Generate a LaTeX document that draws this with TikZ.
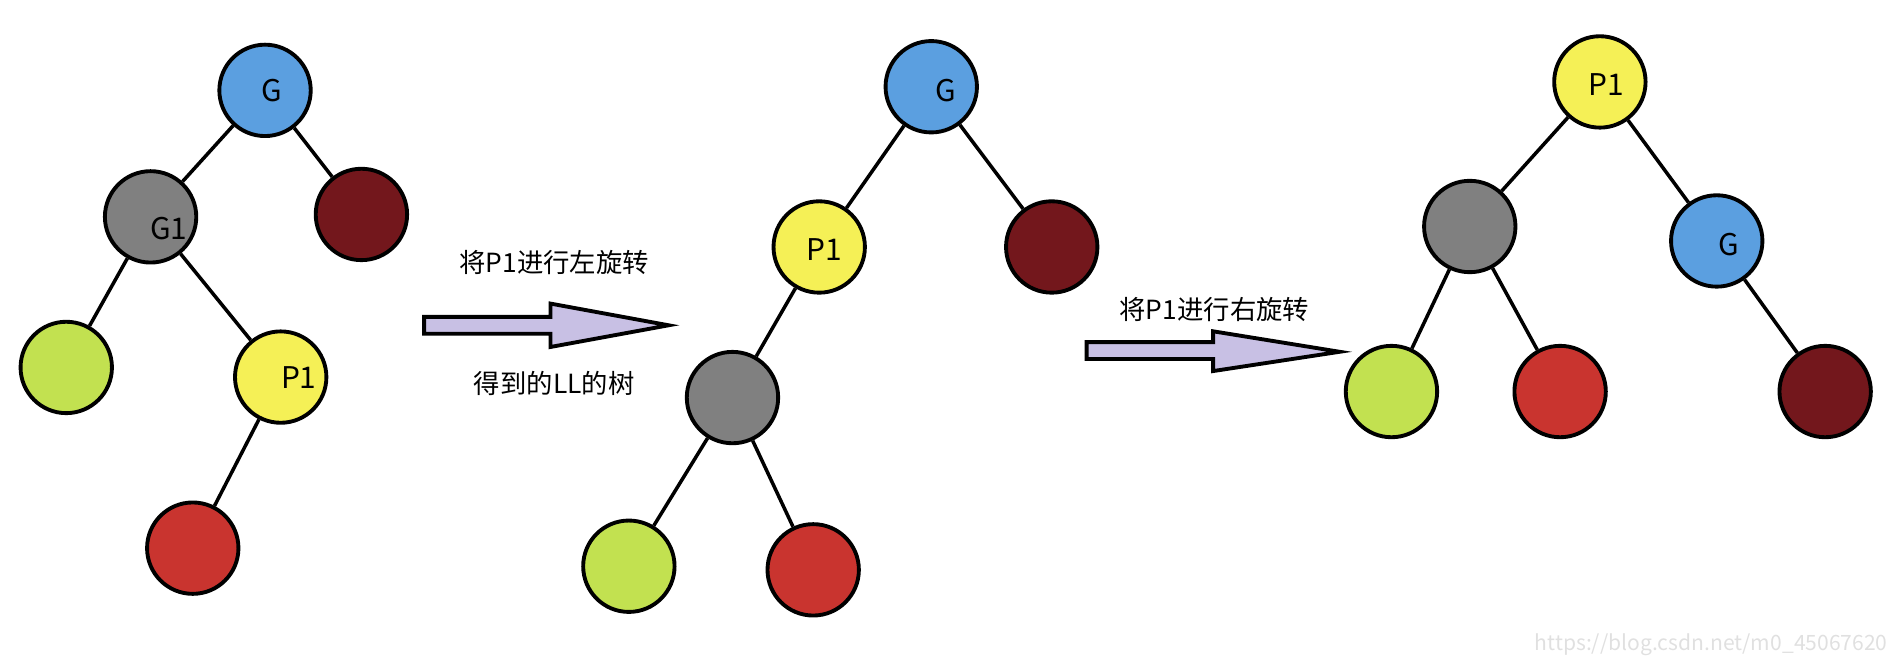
\documentclass[tikz,border=0pt]{standalone}
\usepackage{fontspec}
\setmainfont{Noto Sans CJK SC}
\definecolor{cblue}{HTML}{5B9FE0}
\definecolor{cgray}{HTML}{808080}
\definecolor{cdred}{HTML}{73171C}
\definecolor{cgreen}{HTML}{C2E150}
\definecolor{cyel}{HTML}{F5F056}
\definecolor{cred}{HTML}{C9342F}
\definecolor{clav}{HTML}{C8C0E4}
\begin{document}
\begin{tikzpicture}[x=0.0241cm,y=-0.0241cm,
  nd/.style={circle,draw=black,line width=2.2pt,minimum size=52pt,inner sep=0pt},
  lbl/.style={font=\fontsize{17}{20}\selectfont},
  edge/.style={line width=2pt},
  fat/.style={draw=black,line width=2.2pt,fill=clav},
  captxt/.style={font=\fontsize{15}{18}\selectfont}]
\useasboundingbox (0,0) rectangle (1568,547);
% tree 1
\node[nd,fill=cblue] (aG) at (220,75) {};
\node[nd,fill=cgray] (aG1) at (125,180) {};
\node[nd,fill=cdred] (aR) at (300,178) {};
\node[nd,fill=cgreen] (aL) at (55,305) {};
\node[nd,fill=cyel] (aP) at (233,313) {};
\node[nd,fill=cred] (aRR) at (160,455) {};
\draw[edge] (aG)--(aG1) (aG)--(aR) (aG1)--(aL) (aG1)--(aP) (aP)--(aRR);
\node[lbl] (taG) at (226,75) {G};
\node[lbl] (taG1) at (140,190) {G1};
\node[lbl] (taP) at (248,313) {P1};
% tree 2
\node[nd,fill=cblue] (bG) at (773,72) {};
\node[nd,fill=cyel] (bP) at (680,205) {};
\node[nd,fill=cdred] (bR) at (873,205) {};
\node[nd,fill=cgray] (bM) at (608,330) {};
\node[nd,fill=cgreen] (bL) at (522,470) {};
\node[nd,fill=cred] (bRR) at (675,473) {};
\draw[edge] (bG)--(bP) (bG)--(bR) (bP)--(bM) (bM)--(bL) (bM)--(bRR);
\node[lbl] (tbG) at (785,75) {G};
\node[lbl] (tbP) at (684,207) {P1};
% tree 3
\node[nd,fill=cyel] (cP) at (1328,68) {};
\node[nd,fill=cgray] (cM) at (1220,188) {};
\node[nd,fill=cblue] (cG) at (1425,200) {};
\node[nd,fill=cgreen] (cL) at (1155,325) {};
\node[nd,fill=cred] (cRR) at (1295,325) {};
\node[nd,fill=cdred] (cR) at (1515,325) {};
\draw[edge] (cP)--(cM) (cP)--(cG) (cM)--(cL) (cM)--(cRR) (cG)--(cR);
\node[lbl] (tcP) at (1333,70) {P1};
\node[lbl] (tcG) at (1435,203) {G};
% arrows and captions
\node[captxt] (t1) at (460,218) {将P1进行左旋转};
\node[captxt] (t2) at (460,318) {得到的LL的树};
\draw[fat] (352,263)--(457,263)--(457,252)--(555,270)--(457,288)--(457,277)--(352,277)--cycle;
\node[captxt] (t3) at (1008,257) {将P1进行右旋转};
\draw[fat] (902,284)--(1007,284)--(1007,275)--(1112,292)--(1007,308)--(1007,298)--(902,298)--cycle;
\node[font=\fontsize{12}{14}\selectfont,text=black!12,anchor=east] (wm) at (1572,535) {https://blog.csdn.net/m0\_45067620};
\end{tikzpicture}
\end{document}
